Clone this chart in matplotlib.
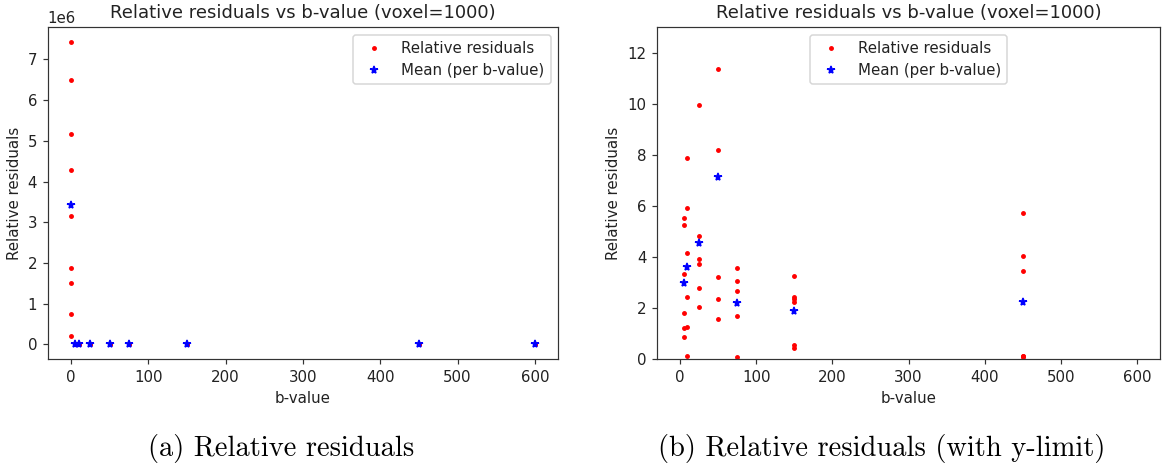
import numpy as np
import matplotlib
matplotlib.use("Agg")
import matplotlib.pyplot as plt

# ---- data ----
b_values = [0, 5, 10, 25, 50, 75, 150, 450, 600]
res_b0 = [7.42e6, 6.49e6, 5.17e6, 4.28e6, 3.14e6, 1.875e6, 1.50e6, 0.75e6, 0.19e6]
res_b5 = [5.55, 5.25, 3.33, 1.82, 1.22, 0.86]
res_b10 = [7.89, 5.91, 4.16, 2.42, 1.28, 0.13]
res_b25 = [9.95, 4.84, 3.93, 3.75, 2.78, 2.05]
res_b50 = [11.36, 8.21, 3.21, 2.36, 1.58, 16.06]
res_b75 = [3.58, 3.08, 2.66, 1.70, 0.10]
res_b150 = [3.26, 2.43, 2.36, 2.26, 0.55, 0.43]
res_b450 = [5.73, 4.05, 3.45, 0.13, 0.08, 0.12]
res_b600 = [18.4, 23.1, 15.6, 27.9, 20.3, 16.8]

residuals = [res_b0, res_b5, res_b10, res_b25, res_b50, res_b75,
             res_b150, res_b450, res_b600]

title = "Relative residuals vs b-value (voxel=1000)"
xlabel = "b-value"
ylabel = "Relative residuals"
caption_a = "(a) Relative residuals"
caption_b = "(b) Relative residuals (with y-limit)"

x_all = np.concatenate([[b] * len(r) for b, r in zip(b_values, residuals)])
y_all = np.concatenate([np.asarray(r, dtype=float) for r in residuals])
means = [np.mean(r) for r in residuals]

W, H, DPI = 1168, 466, 108
fig = plt.figure(figsize=(W / DPI, H / DPI), dpi=DPI)

ax1 = fig.add_axes([47.8 / W, (H - 359.3) / H, 510.2 / W, 332.0 / H])
ax2 = fig.add_axes([657.0 / W, (H - 359.3) / H, 503.0 / W, 332.0 / H])

for ax, loc in ((ax1, "upper right"), (ax2, "upper center")):
    ax.plot(x_all, y_all, "r.", markersize=4.5, label="Relative residuals")
    ax.plot(b_values, means, "b*", markersize=5.5, label="Mean (per b-value)")
    ax.set_title(title, color="#222222")
    ax.set_xlabel(xlabel, color="#222222")
    ax.set_ylabel(ylabel, color="#222222")
    ax.tick_params(labelcolor="#222222", color="#333333")
    for sp in ax.spines.values():
        sp.set_edgecolor("#333333")
    leg = ax.legend(loc=loc)
    for t in leg.get_texts():
        t.set_color("#222222")

ax2.set_ylim(0, 13)

fig.text(281 / W, (H - 456) / H, caption_a, family="cmr10", fontsize=19,
         ha="center", va="baseline")
fig.text(882 / W, (H - 456) / H, caption_b, family="cmr10", fontsize=19,
         ha="center", va="baseline")

fig.savefig("out.png", dpi=DPI)
